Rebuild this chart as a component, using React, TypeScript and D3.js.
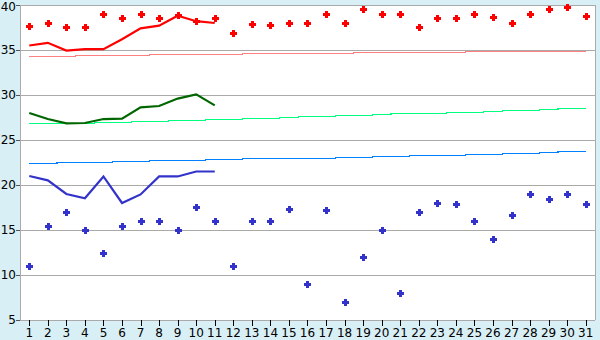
import React from "react";
import * as d3 from "d3";

const days = d3.range(1, 32).map(String);

const maxTemp = [37.7, 38.0, 37.5, 37.5, 39.0, 38.5, 39.0, 38.6, 38.9, 38.2, 38.5, 36.85, 37.85, 37.75, 37.95, 38.0, 39.0, 38.0, 39.5, 39.0, 39.0, 37.6, 38.5, 38.5, 39.0, 38.7, 38.0, 39.0, 39.5, 39.75, 38.75];
const minTemp = [11.0, 15.5, 17.0, 15.0, 12.5, 15.5, 16.0, 16.0, 15.0, 17.5, 16.0, 11.0, 16.0, 16.0, 17.3, 9.0, 17.2, 7.0, 12.0, 15.0, 8.0, 17.0, 18.0, 17.85, 16.0, 14.0, 16.7, 19.0, 18.5, 19.0, 17.85];
const maxLine = [35.5, 35.8, 34.93, 35.1, 35.1, 36.2, 37.4, 37.7, 38.8, 38.2, 38.0];
const midLine = [28.0, 27.33, 26.85, 26.89, 27.33, 27.37, 28.63, 28.78, 29.6, 30.07, 28.85];
const minLine = [21.0, 20.52, 19.0, 18.52, 20.95, 18.0, 18.95, 20.95, 20.95, 21.5, 21.5];
const normMax = [34.3, 34.3, 34.3, 34.41, 34.41, 34.41, 34.41, 34.52, 34.52, 34.52, 34.52, 34.52, 34.63, 34.63, 34.63, 34.63, 34.63, 34.63, 34.74, 34.74, 34.74, 34.74, 34.74, 34.74, 34.85, 34.85, 34.85, 34.85, 34.85, 34.85, 34.85];
const normMid = [26.86, 26.86, 26.86, 26.86, 26.97, 26.97, 27.08, 27.08, 27.19, 27.19, 27.3, 27.3, 27.41, 27.41, 27.52, 27.63, 27.63, 27.74, 27.74, 27.85, 27.97, 27.97, 27.97, 28.08, 28.08, 28.19, 28.3, 28.3, 28.41, 28.52, 28.52];
const normMin = [22.41, 22.41, 22.52, 22.52, 22.52, 22.63, 22.63, 22.74, 22.74, 22.74, 22.86, 22.86, 22.97, 22.97, 22.97, 22.97, 22.97, 23.08, 23.08, 23.19, 23.19, 23.3, 23.3, 23.3, 23.41, 23.41, 23.52, 23.52, 23.63, 23.74, 23.74];
const yTicks = [5, 10, 15, 20, 25, 30, 35, 40];

const W = 600, H = 340;
const L = 20, R = 595, T = 5, B = 320;

const MARK = "M-1.5,-3.5h3v2h2v3h-2v2h-3v-2h-2v-3h2z";

export default function App() {
  const x = d3.scaleBand<string>().domain(days).range([L, R]);
  const cx = (i: number) => (x(days[i]) as number) + x.bandwidth() / 2;
  const y = d3.scaleLinear().domain([5, 40]).range([B, T]);

  const line = d3.line<number>().x((_, i) => cx(i)).y((d) => y(d));
  const step = d3.line<number>().x((_, i) => cx(i)).y((d) => Math.round(y(d)) + 0.5).curve(d3.curveStep);

  const font = "DejaVu Sans, Verdana, sans-serif";

  return (
    <svg width={W} height={H} style={{ position: "absolute", left: 0, top: 0 }} fontFamily={font}>
      <rect x={0} y={0} width={W} height={H} fill="#d9eff6" />
      <rect x={L} y={T} width={R - L} height={B - T} fill="#ffffff" />
      {yTicks.map((t) => (
        <g key={t}>
          <line x1={L} x2={R} y1={Math.round(y(t)) + 0.5} y2={Math.round(y(t)) + 0.5} stroke="#aaaaaa" shapeRendering="crispEdges" />
          <line x1={L - 4} x2={L} y1={Math.round(y(t)) + 0.5} y2={Math.round(y(t)) + 0.5} stroke="#555" shapeRendering="crispEdges" />
          <text x={L - 4} y={Math.max(y(t), 6.5)} textAnchor="end" dominantBaseline="central" fontSize={12} fill="#000">{t}</text>
        </g>
      ))}
      <line x1={L + 0.5} x2={L + 0.5} y1={T} y2={B} stroke="#aaaaaa" shapeRendering="crispEdges" />
      <line x1={R + 0.5} x2={R + 0.5} y1={T} y2={B} stroke="#aaaaaa" shapeRendering="crispEdges" />
      {days.map((d, i) => (
        <g key={d}>
          <line x1={Math.round(cx(i)) + 0.5} x2={Math.round(cx(i)) + 0.5} y1={B} y2={B + 6} stroke="#000" shapeRendering="crispEdges" />
          <text x={cx(i)} y={B + 13} textAnchor="middle" dominantBaseline="central" fontSize={12} fill="#000">{d}</text>
        </g>
      ))}
      <path d={step(normMax) as string} fill="none" stroke="#ff8080" strokeWidth={1} shapeRendering="crispEdges" />
      <path d={step(normMid) as string} fill="none" stroke="#00ff80" strokeWidth={1.2} shapeRendering="crispEdges" />
      <path d={step(normMin) as string} fill="none" stroke="#0080ff" strokeWidth={1.2} shapeRendering="crispEdges" />
      <path d={line(maxLine) as string} fill="none" stroke="#ff0000" strokeWidth={2.2} />
      <path d={line(midLine) as string} fill="none" stroke="#006600" strokeWidth={2.2} />
      <path d={line(minLine) as string} fill="none" stroke="#3333cc" strokeWidth={2.2} />
      {maxTemp.map((v, i) => (
        <path key={"mx" + i} d={MARK} transform={`translate(${Math.round(cx(i))},${Math.round(y(v))})`} fill="#ff0000" shapeRendering="crispEdges" />
      ))}
      {minTemp.map((v, i) => (
        <path key={"mn" + i} d={MARK} transform={`translate(${Math.round(cx(i))},${Math.round(y(v))})`} fill="#3333cc" shapeRendering="crispEdges" />
      ))}
    </svg>
  );
}
